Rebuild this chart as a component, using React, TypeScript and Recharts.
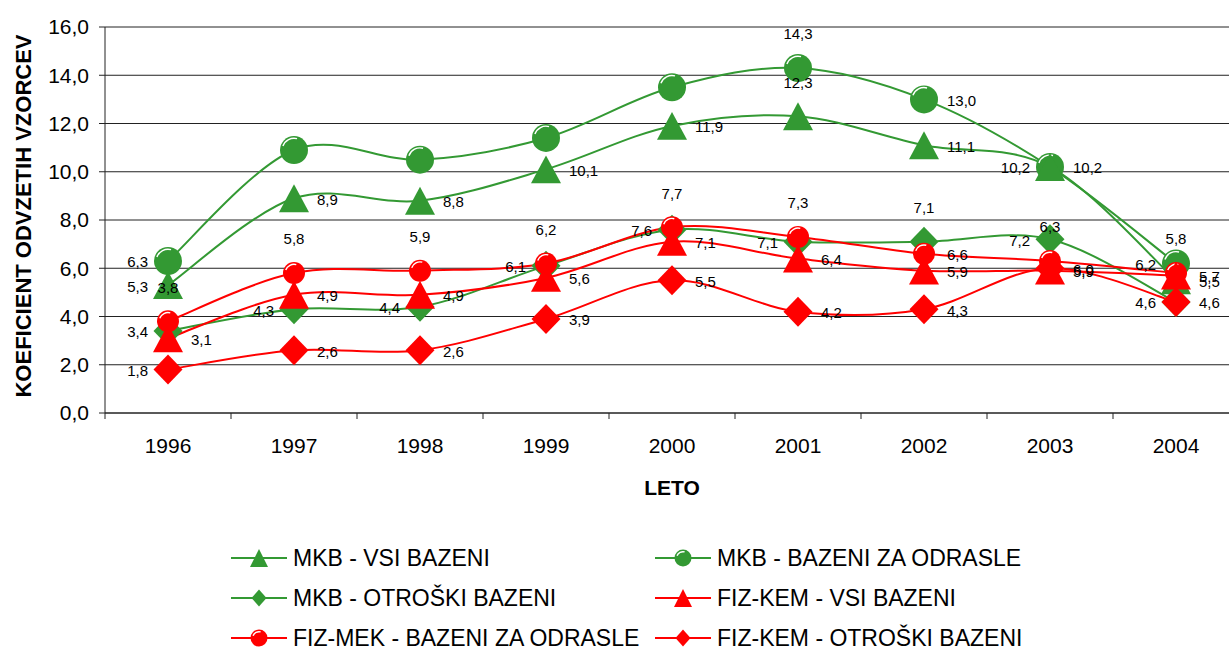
import React from "react";
import { LineChart, Line, XAxis, YAxis, CartesianGrid, Legend, Label } from "recharts";

document.body.style.margin = "0";

const years = ["1996", "1997", "1998", "1999", "2000", "2001", "2002", "2003", "2004"];
const mkbVsi = [5.3, 8.9, 8.8, 10.1, 11.9, 12.3, 11.1, 10.2, 5.5];
const mkbOdrasle = [6.3, 10.9, 10.5, 11.4, 13.5, 14.3, 13.0, 10.2, 6.2];
const mkbOtroski = [3.4, 4.3, 4.4, 6.1, 7.6, 7.1, 7.1, 7.2, 4.6];
const fizKemVsi = [3.1, 4.9, 4.9, 5.6, 7.1, 6.4, 5.9, 5.9, 5.7];
const fizMekOdrasle = [3.8, 5.8, 5.9, 6.2, 7.7, 7.3, 6.6, 6.3, 5.8];
const fizKemOtroski = [1.8, 2.6, 2.6, 3.9, 5.5, 4.2, 4.3, 6.0, 4.6];
const yTicks = [0, 2, 4, 6, 8, 10, 12, 14, 16];

const GREEN = "#339933";
const RED = "#ff0000";
const FONT = "'Liberation Sans', Arial, sans-serif";
const BAND = 126;

const data = years.map((year, i) => ({
  year,
  mkbVsi: mkbVsi[i],
  mkbOdrasle: mkbOdrasle[i],
  mkbOtroski: mkbOtroski[i],
  fizKemVsi: fizKemVsi[i],
  fizMekOdrasle: fizMekOdrasle[i],
  fizKemOtroski: fizKemOtroski[i],
}));

// label placement per point: l = left, r = right, t = above, - = none
const series = [
  { key: "mkbOdrasle", name: "MKB - BAZENI ZA ODRASLE", color: GREEN, shape: "circle", size: 14, pos: "l----trll" },
  { key: "mkbVsi", name: "MKB - VSI BAZENI", color: GREEN, shape: "tri", size: 15, pos: "lrrrrtrrr" },
  { key: "mkbOtroski", name: "MKB - OTROŠKI BAZENI", color: GREEN, shape: "diamond", size: 14.5, pos: "lllllltll" },
  { key: "fizMekOdrasle", name: "FIZ-MEK - BAZENI ZA ODRASLE", color: RED, shape: "circle", size: 11, pos: "ttttttrtt" },
  { key: "fizKemVsi", name: "FIZ-KEM - VSI BAZENI", color: RED, shape: "tri", size: 15, pos: "rrrrrrrrr" },
  { key: "fizKemOtroski", name: "FIZ-KEM - OTROŠKI BAZENI", color: RED, shape: "diamond", size: 14.5, pos: "lrrrrrrrr" },
];
const legendOrder = ["mkbVsi", "mkbOdrasle", "mkbOtroski", "fizKemVsi", "fizMekOdrasle", "fizKemOtroski"];

// Excel-like smoothed line (catmull-rom style bezier)
const excelCurve = (ctx: any) => {
  let pts: number[][] = [];
  return {
    areaStart() {},
    areaEnd() {},
    lineStart() {
      pts = [];
    },
    point(x: number, y: number) {
      pts.push([+x, +y]);
    },
    lineEnd() {
      const n = pts.length;
      if (!n) return;
      ctx.moveTo(pts[0][0], pts[0][1]);
      for (let i = 0; i < n - 1; i++) {
        const p0 = pts[Math.max(i - 1, 0)];
        const p1 = pts[i];
        const p2 = pts[i + 1];
        const p3 = pts[Math.min(i + 2, n - 1)];
        ctx.bezierCurveTo(
          p1[0] + (p2[0] - p0[0]) / 6,
          p1[1] + (p2[1] - p0[1]) / 6,
          p2[0] - (p3[0] - p1[0]) / 6,
          p2[1] - (p3[1] - p1[1]) / 6,
          p2[0],
          p2[1]
        );
      }
    },
  };
};

function Marker({ shape, cx, cy, color, s, h }: any) {
  if (shape === "tri") {
    const hh = h ?? s * 0.93;
    return <path d={`M${cx},${cy - hh} L${cx + s},${cy + hh} L${cx - s},${cy + hh} Z`} fill={color} />;
  }
  if (shape === "diamond") {
    const hh = h ?? s + 0.5;
    return <path d={`M${cx},${cy - hh} L${cx + s},${cy} L${cx},${cy + hh} L${cx - s},${cy} Z`} fill={color} />;
  }
  const r = s - 2.2;
  const a0 = (200 * Math.PI) / 180;
  const a1 = (285 * Math.PI) / 180;
  return (
    <g>
      <circle cx={cx} cy={cy} r={s} fill={color} />
      <path
        d={`M${cx + r * Math.cos(a0)},${cy + r * Math.sin(a0)} A${r},${r} 0 0 1 ${cx + r * Math.cos(a1)},${cy + r * Math.sin(a1)}`}
        fill="none"
        stroke="#fff"
        strokeWidth={1.4}
      />
    </g>
  );
}

const fmt = (v: number) => v.toFixed(1).replace(".", ",");

function YearTick({ x, y, payload, index }: any) {
  return (
    <g>
      {index === 0 && <line x1={x - BAND / 2} x2={x - BAND / 2} y1={y} y2={y + 6} stroke="#222" />}
      <line x1={x + BAND / 2} x2={x + BAND / 2} y1={y} y2={y + 6} stroke="#222" />
      <text x={x} y={y + 40} textAnchor="middle" fontSize={21} fill="#000" fontFamily={FONT}>
        {payload.value}
      </text>
    </g>
  );
}

function LegendBox() {
  const cols = [231, 655];
  const rows = [45, 85, 125];
  return (
    <svg width={1240} height={135} style={{ display: "block" }}>
      {legendOrder.map((k, i) => {
        const s = series.find((d) => d.key === k)!;
        const x = cols[i % 2];
        const y = rows[Math.floor(i / 2)];
        return (
          <g key={k}>
            <line x1={x} x2={x + 56} y1={y} y2={y} stroke={s.color} strokeWidth={2} />
            <Marker
              shape={s.shape}
              cx={x + 28}
              cy={y}
              color={s.color}
              s={s.shape === "circle" ? 8.5 : s.shape === "tri" ? 9 : 7.5}
              h={s.shape === "circle" ? undefined : s.shape === "tri" ? 9 : 8.5}
            />
            <text x={x + 62} y={y + 8} fontSize={23} fill="#000" fontFamily={FONT}>
              {s.name}
            </text>
          </g>
        );
      })}
    </svg>
  );
}

export default function App() {
  return (
    <div style={{ width: 1229, height: 648, overflow: "hidden", background: "#fff" }}>
      <LineChart
        width={1240}
        height={648}
        data={data}
        margin={{ top: 27, right: 1, bottom: 0, left: 0 }}
        style={{ fontFamily: FONT }}
      >
        <CartesianGrid vertical={false} stroke="#222" strokeWidth={1} />
        <XAxis
          dataKey="year"
          height={100}
          padding={{ left: BAND / 2, right: BAND / 2 }}
          tickSize={0}
          tickMargin={0}
          tickLine={false}
          axisLine={{ stroke: "#222" }}
          tick={<YearTick />}
          interval={0}
        >
          <Label
            content={({ viewBox }: any) => (
              <text
                x={viewBox.x + viewBox.width / 2}
                y={viewBox.y + 82}
                textAnchor="middle"
                fontSize={21}
                fontWeight="bold"
                fontFamily={FONT}
                fill="#000"
              >
                LETO
              </text>
            )}
          />
        </XAxis>
        <YAxis
          width={105}
          domain={[0, 16]}
          ticks={yTicks}
          tickFormatter={fmt}
          tickSize={6}
          tickMargin={10}
          axisLine={{ stroke: "#222" }}
          tickLine={{ stroke: "#222" }}
          tick={{ fontSize: 21, fill: "#000", fontFamily: FONT }}
          interval={0}
        >
          <Label
            content={({ viewBox }: any) => {
              const cy = viewBox.y + viewBox.height / 2 - 4;
              return (
                <text
                  x={23}
                  y={cy}
                  transform={`rotate(-90 23 ${cy})`}
                  textAnchor="middle"
                  dominantBaseline="central"
                  fontSize={22}
                  fontWeight="bold"
                  fontFamily={FONT}
                  fill="#000"
                >
                  KOEFICIENT ODVZETIH VZORCEV
                </text>
              );
            }}
          />
        </YAxis>
        <Legend verticalAlign="bottom" height={135} wrapperStyle={{ left: 0, width: 1240 }} content={() => <LegendBox />} />
        {series.map((s) => (
          <Line
            key={s.key}
            dataKey={s.key}
            name={s.name}
            type={excelCurve as any}
            stroke={s.color}
            strokeWidth={2}
            isAnimationActive={false}
            activeDot={false}
            dot={(p: any) => (
              <g key={`${s.key}-dot-${p.index}`}>
                <Marker shape={s.shape} cx={p.cx} cy={p.cy} color={s.color} s={s.size} />
              </g>
            )}
          />
        ))}
        {series.map((s) => (
          <Line
            key={`${s.key}-labels`}
            dataKey={s.key}
            stroke="none"
            legendType="none"
            isAnimationActive={false}
            activeDot={false}
            dot={(p: any) => {
              const where = s.pos[p.index];
              const v = p.payload[s.key];
              if (where === "-" || v == null) return <g key={`${s.key}-lbl-${p.index}`} />;
              const x = where === "r" ? p.cx + 23 : where === "l" ? p.cx - 20 : p.cx;
              const y = where === "t" ? p.cy - 34 : p.cy + 1;
              return (
                <text
                  key={`${s.key}-lbl-${p.index}`}
                  x={x}
                  y={y + 5.4}
                  textAnchor={where === "r" ? "start" : where === "l" ? "end" : "middle"}
                  fontSize={15}
                  fill="#000"
                  fontFamily={FONT}
                >
                  {fmt(v)}
                </text>
              );
            }}
          />
        ))}
      </LineChart>
    </div>
  );
}
